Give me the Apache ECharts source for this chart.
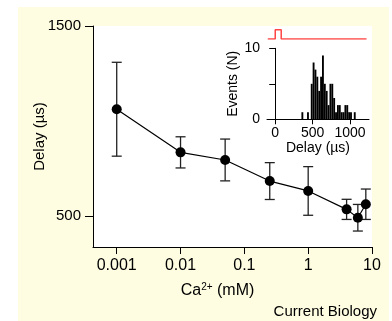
<!DOCTYPE html>
<html>
<head>
<meta charset="utf-8">
<script src="https://cdn.jsdelivr.net/npm/echarts@6/dist/echarts.min.js"></script>
<style>
  html, body { margin: 0; padding: 0; background: #fff; }
  #wrap { position: relative; width: 392px; height: 321px; }
  #paper { position: absolute; left: 18px; top: 7px; width: 371px; height: 314px; background: #fefde2; }
  #chart { position: absolute; left: 0; top: 0; width: 392px; height: 321px; }
</style>
</head>
<body>
<div id="wrap">
  <div id="paper"></div>
  <div id="chart"></div>
</div>
<script>
// main plot: delay vs Ca2+ concentration
const concentration = [0.001, 0.01, 0.05, 0.25, 1, 4, 6, 8];
const delayMean = [1062, 835, 795, 684, 632, 535, 491, 562];
const delaySem = [247, 82, 110, 97, 128, 53, 70, 80];
const xTicks = [0.001, 0.01, 0.1, 1, 10];
const yTicks = [500, 1500];

// inset: histogram of delays (25 us bins, left edge)
const binStart = [350, 425, 475, 500, 525, 550, 575, 600, 625, 650, 675, 700, 725, 750, 775, 800, 825, 850, 875, 900, 925, 950, 975, 1000, 1050];
const binCount = [1, 1, 5, 8, 7, 6, 4, 6, 9, 5, 4, 2, 5, 5, 3, 1, 2, 2, 1, 1, 2, 2, 1, 1, 1];
const binWidth = 25;
const histXTicks = [0, 500, 1000];
const histYTicks = [0, 5, 10];
const histYLabels = [0, 10];

// stimulus trace above the inset
const stimTime = [-100, 0, 0, 80, 80, 1220];
const stimLevel = [0, 0, 1, 1, 0, 0];

const font = '"Liberation Sans", Arial, Helvetica, sans-serif';
const plain = v => String(v);
const chart = echarts.init(document.getElementById('chart'), null, { renderer: 'canvas' });

const option = {
  animation: false,
  backgroundColor: 'transparent',
  textStyle: { fontFamily: font, color: '#000' },
  grid: [
    { left: 93, top: 26, right: 20, bottom: 74, show: true, backgroundColor: '#fff', borderWidth: 0 },
    { left: 267, top: 48.3, right: 23, bottom: 201.7 },
    { left: 267, top: 29.7, right: 23, height: 9.3 }
  ],
  xAxis: [
    {
      type: 'log', gridIndex: 0, min: 0.000425, max: 10,
      axisLine: { show: true, lineStyle: { color: '#000', width: 1 } },
      axisTick: { show: true, customValues: xTicks, length: 7, lineStyle: { color: '#000' } },
      axisLabel: { customValues: xTicks, formatter: plain, margin: 11, fontSize: 16, color: '#000', fontFamily: font },
      splitLine: { show: false },
      name: '{n|Ca}{s|2+}{n| (mM)}', nameLocation: 'middle', nameGap: 35, nameMoveOverlap: false,
      nameTextStyle: {
        padding: [0, 30, 0, 0],
        rich: {
          n: { fontSize: 16, fontFamily: font, color: '#000', lineHeight: 18 },
          s: { fontSize: 10, fontFamily: font, color: '#000', verticalAlign: 'top', lineHeight: 10 }
        }
      }
    },
    {
      type: 'value', gridIndex: 1, min: -110, max: 1253,
      axisLine: { show: true, onZero: false, lineStyle: { color: '#000' } },
      axisTick: { show: true, customValues: histXTicks, length: 5, lineStyle: { color: '#000' } },
      axisLabel: { customValues: histXTicks, formatter: plain, margin: 7, fontSize: 14, color: '#000', fontFamily: font },
      splitLine: { show: false },
      name: 'Delay (µs)', nameLocation: 'middle', nameGap: 22, nameMoveOverlap: false,
      nameTextStyle: { fontSize: 14, fontFamily: font, color: '#000' }
    },
    { type: 'value', gridIndex: 2, min: -110, max: 1253, show: false }
  ],
  yAxis: [
    {
      type: 'value', gridIndex: 0, min: 337, max: 1500,
      axisLine: { show: true, lineStyle: { color: '#000', width: 1 } },
      axisTick: { show: true, customValues: yTicks, length: 8, lineStyle: { color: '#000' } },
      axisLabel: { customValues: yTicks, formatter: plain, margin: 12, fontSize: 15, color: '#000', fontFamily: font },
      splitLine: { show: false },
      name: 'Delay (µs)', nameLocation: 'middle', nameGap: 46, nameMoveOverlap: false,
      nameTextStyle: { fontSize: 15, fontFamily: font, color: '#000' }
    },
    {
      type: 'value', gridIndex: 1, min: 0, max: 10,
      axisLine: { show: true, lineStyle: { color: '#000' } },
      axisTick: { show: true, customValues: histYTicks, length: 6, lineStyle: { color: '#000' } },
      axisLabel: { customValues: histYLabels, formatter: plain, margin: 7, fontSize: 14, color: '#000', fontFamily: font },
      splitLine: { show: false },
      name: 'Events (N)', nameLocation: 'middle', nameGap: 27, nameMoveOverlap: false,
      nameTextStyle: { fontSize: 14, fontFamily: font, color: '#000' }
    },
    { type: 'value', gridIndex: 2, min: 0, max: 1, show: false }
  ],
  series: [
    {
      // error bars
      type: 'custom', xAxisIndex: 0, yAxisIndex: 0, z: 2,
      data: concentration.map((c, i) => [c, delayMean[i] - delaySem[i], delayMean[i] + delaySem[i]]),
      renderItem: function (params, api) {
        const lo = api.coord([api.value(0), api.value(1)]);
        const hi = api.coord([api.value(0), api.value(2)]);
        const cap = 5;
        const st = { stroke: '#222', lineWidth: 1.3 };
        return {
          type: 'group',
          children: [
            { type: 'line', shape: { x1: lo[0], y1: lo[1], x2: hi[0], y2: hi[1] }, style: st },
            { type: 'line', shape: { x1: lo[0] - cap, y1: lo[1], x2: lo[0] + cap, y2: lo[1] }, style: st },
            { type: 'line', shape: { x1: hi[0] - cap, y1: hi[1], x2: hi[0] + cap, y2: hi[1] }, style: st }
          ]
        };
      }
    },
    {
      type: 'line', xAxisIndex: 0, yAxisIndex: 0, z: 3,
      data: concentration.map((c, i) => [c, delayMean[i]]),
      symbol: 'circle', symbolSize: 10,
      itemStyle: { color: '#000' },
      lineStyle: { color: '#000', width: 1.2 }
    },
    {
      // histogram
      type: 'custom', xAxisIndex: 1, yAxisIndex: 1, z: 3,
      data: binStart.map((b, i) => [b, binCount[i]]),
      renderItem: function (params, api) {
        const a = api.coord([api.value(0), api.value(1)]);
        const b = api.coord([api.value(0) + binWidth, 0]);
        return {
          type: 'rect',
          shape: { x: a[0], y: a[1], width: b[0] - a[0], height: b[1] - a[1] },
          style: { fill: '#000' }
        };
      }
    },
    {
      type: 'line', xAxisIndex: 2, yAxisIndex: 2,
      data: stimTime.map((t, i) => [t, stimLevel[i]]),
      symbol: 'none',
      lineStyle: { color: '#ff4545', width: 1.5 }
    }
  ],
  graphic: [
    {
      type: 'text', x: 377, y: 312,
      style: { text: 'Current Biology', fill: '#000', font: '15px ' + font, align: 'right', verticalAlign: 'middle' }
    }
  ]
};

chart.setOption(option);
</script>
</body>
</html>
